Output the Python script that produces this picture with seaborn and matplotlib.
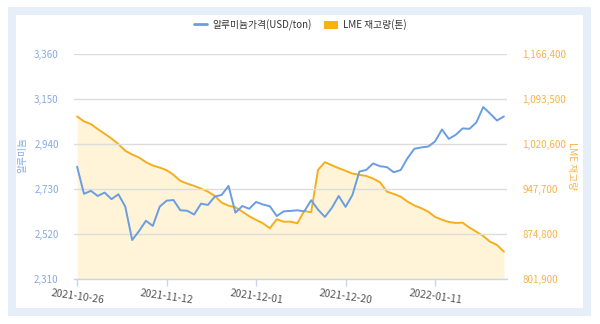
import matplotlib
matplotlib.use("Agg")
import matplotlib.pyplot as plt
import seaborn as sns
import numpy as np
import pandas as pd
from matplotlib.patches import Rectangle, Patch
from matplotlib.lines import Line2D

# ---- data ----
price = [2833, 2706, 2720, 2696, 2712, 2681, 2704, 2646, 2490, 2532,
         2580, 2556, 2646, 2674, 2677, 2629, 2627, 2609, 2660, 2654,
         2693, 2701, 2743, 2618, 2649, 2636, 2668, 2656, 2648, 2602,
         2624, 2626, 2629, 2624, 2676, 2632, 2598, 2640, 2696, 2645,
         2701, 2810, 2818, 2848, 2835, 2831, 2807, 2817, 2873, 2917,
         2923, 2927, 2951, 3007, 2963, 2982, 3012, 3010, 3040, 3112,
         3081, 3049, 3068]
stock = [1065000, 1056900, 1052700, 1044500, 1036900, 1029200, 1020100, 1009200, 1003200, 998300,
         990800, 985300, 982000, 977800, 970200, 960400, 956000, 952300, 947900, 943000,
         936000, 925100, 920200, 917600, 910500, 903000, 897000, 891600, 883400, 898100,
         894200, 894200, 891600, 911600, 909500, 978300, 990800, 985800, 981000, 976700,
         972300, 970200, 968500, 964100, 958300, 943000, 939200, 934900, 926700, 920500,
         916000, 910500, 901800, 897400, 893700, 892100, 892600, 884400, 877900, 870900,
         861600, 856300, 845400]
tick_labels = ["2021-10-26", "2021-11-12", "2021-12-01", "2021-12-20", "2022-01-11"]
left_ticks = [2310, 2520, 2730, 2940, 3150, 3360]
right_ticks = [801900, 874800, 947700, 1020600, 1093500, 1166400]
series_names = ["알루미늄가격(USD/ton)", "LME 재고량(톤)"]

df = pd.DataFrame({"idx": np.arange(len(price)), "price": price, "stock": stock})

BLUE = "#6a9de2"
ORANGE = "#f5ae1c"
FILL = "#fff4d8"
LBLUE_TXT = "#86aae4"
ORANGE_TXT = "#f6b34a"
AXIS_C = "#c9d6ea"

sns.set_theme(style="white")
plt.rcParams['font.family'] = ['Noto Sans CJK KR', 'DejaVu Sans']

fig = plt.figure(figsize=(6, 3.24), dpi=100)
fig.patch.set_facecolor("white")
fig.patches.append(Rectangle((8/600, 1-316/324), 583/600, 309/324, transform=fig.transFigure,
                             facecolor="#e6eef8", edgecolor="none", zorder=-3))
fig.patches.append(Rectangle((16/600, 1-308/324), 567/600, 293/324, transform=fig.transFigure,
                             facecolor="white", edgecolor="none", zorder=-2))

ax = fig.add_axes([74/600, 1-278.5/324, 433/600, 224.5/324])
ax2 = ax.twinx()

# stock (right axis) with area fill
ax2.fill_between(df["idx"], df["stock"], right_ticks[0], color=FILL, lw=0, zorder=1)
sns.lineplot(data=df, x="idx", y="stock", ax=ax2, color=ORANGE, lw=1.4, zorder=2)
# price (left axis)
sns.lineplot(data=df, x="idx", y="price", ax=ax, color=BLUE, lw=1.4, zorder=3)

ax.set_zorder(ax2.get_zorder() + 1)
ax.patch.set_visible(False)

n = len(price)
ax.set_xlim(-0.45, n - 1 + 0.45)
ax.set_ylim(left_ticks[0], left_ticks[-1])
ax2.set_ylim(right_ticks[0], right_ticks[-1])

ax.set_yticks(left_ticks)
ax.set_yticklabels([f"{v:,}" for v in left_ticks])
ax2.set_yticks(right_ticks)
ax2.set_yticklabels([f"{v:,}" for v in right_ticks])

ax.set_xticks(np.arange(0, n, 13)[:len(tick_labels)])
ax.set_xticklabels(tick_labels, rotation=-8, ha="center")

for s in ["top", "left", "right"]:
    ax.spines[s].set_visible(False)
for s in ["top", "left", "right", "bottom"]:
    ax2.spines[s].set_visible(False)
ax.spines["bottom"].set_color(AXIS_C)
ax.spines["bottom"].set_linewidth(1)

ax.grid(axis="y", color="#dcdcdc", lw=1)
ax.grid(axis="x", visible=False)
ax2.grid(False)

ax.tick_params(axis="y", length=0, pad=11, labelsize=7, labelcolor=LBLUE_TXT)
ax2.tick_params(axis="y", length=0, pad=11, labelsize=7, labelcolor=ORANGE_TXT)
ax.tick_params(axis="x", bottom=True, length=5, width=1, color=AXIS_C, pad=2,
               labelsize=7.5, labelcolor="#555555")

ax.set_xlabel("")
ax.set_ylabel("알루미늄", color=LBLUE_TXT, fontsize=7, va="center")
ax.yaxis.set_label_coords(-0.12, 0.55)
ax2.set_ylabel("LME 재고량", color=ORANGE_TXT, fontsize=7, rotation=270, va="center")
ax2.yaxis.set_label_coords(1.149, 0.5)

handles = [Line2D([], [], color=BLUE, lw=2), Patch(facecolor="#fbb012", edgecolor="none")]
fig.legend(handles=handles, labels=series_names, loc="center",
           bbox_to_anchor=(300/600, 1-25/324), ncol=2, frameon=False, fontsize=7,
           handlelength=1.4, handleheight=0.9, columnspacing=1.3, handletextpad=0.5,
           labelcolor="#333333")

fig.savefig("out.png", dpi=100)
